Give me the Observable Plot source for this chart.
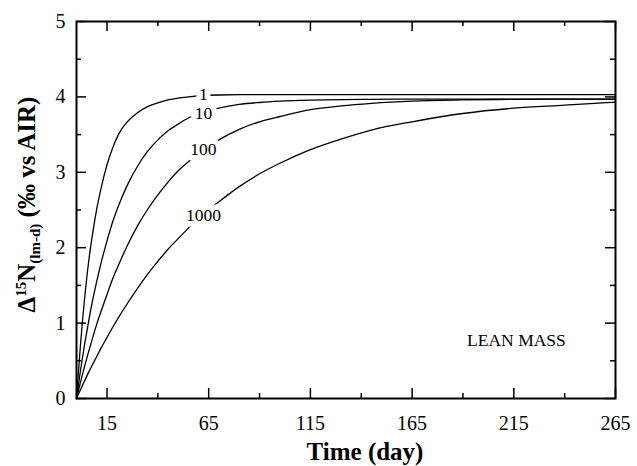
<!DOCTYPE html>
<html>
<head>
<meta charset="utf-8">
<script src="https://cdn.jsdelivr.net/npm/d3@7"></script>
<script src="https://cdn.jsdelivr.net/npm/@observablehq/plot@0.6"></script>
<style>
  html, body { margin: 0; padding: 0; background: #fff; }
  #chart svg, #chart svg text, #chart svg tspan { font-family: "Liberation Serif", serif !important; }
</style>
</head>
<body>
<div id="chart"></div>
<script>
// Time (day)
const days = [0, 2, 4, 6, 8, 10, 12, 15, 18, 21, 25, 30, 35, 40, 45, 50, 55, 62, 70, 80, 90, 100, 115, 130, 145, 165, 190, 215, 240, 265];
// Δ15N values for each curve
const curve1    = [0, 0.73, 1.33, 1.82, 2.20, 2.52, 2.78, 3.10, 3.34, 3.52, 3.67, 3.79, 3.87, 3.92, 3.96, 3.985, 4.00, 4.015, 4.025, 4.03, 4.03, 4.03, 4.03, 4.03, 4.03, 4.03, 4.03, 4.03, 4.03, 4.03];
const curve10   = [0, 0.378, 0.72, 1.03, 1.31, 1.56, 1.79, 2.09, 2.36, 2.58, 2.83, 3.08, 3.28, 3.43, 3.55, 3.64, 3.72, 3.79, 3.85, 3.90, 3.926, 3.943, 3.957, 3.964, 3.967, 3.97, 3.97, 3.97, 3.97, 3.97];
const curve100  = [0, 0.22, 0.43, 0.625, 0.81, 0.99, 1.15, 1.38, 1.60, 1.79, 2.03, 2.29, 2.51, 2.70, 2.87, 3.02, 3.14, 3.29, 3.43, 3.57, 3.67, 3.74, 3.83, 3.88, 3.915, 3.945, 3.96, 3.967, 3.97, 3.97];
const curve1000 = [0, 0.12, 0.235, 0.35, 0.456, 0.56, 0.665, 0.81, 0.955, 1.09, 1.26, 1.46, 1.65, 1.82, 1.98, 2.12, 2.26, 2.44, 2.61, 2.81, 2.98, 3.12, 3.30, 3.44, 3.56, 3.67, 3.78, 3.85, 3.89, 3.93];

const seriesNames = ["1", "10", "100", "1000"];
const seriesValues = [curve1, curve10, curve100, curve1000];

// curve labels (data coordinates)
const labelNames = ["1", "10", "100", "1000"];
const labelX = [62.4, 62.4, 62.4, 62.4];
const labelY = [4.035, 3.784, 3.31, 2.435];

// axis ticks
const xMajor = [15, 65, 115, 165, 215, 265];
const xMinor = [40, 90, 140, 190, 240];
const yMajor = [0, 1, 2, 3, 4, 5];
const yMinor = [0.5, 1.5, 2.5, 3.5, 4.5];

const lineData = seriesNames.flatMap((name, i) =>
  days.map((d, j) => ({series: name, day: d, value: seriesValues[i][j]})));
const labelData = labelNames.map((n, i) => ({name: n, x: labelX[i], y: labelY[i]}));

const W = 637, H = 466;
const mL = 76, mR = 22, mT = 21, mB = 68;
const pw = W - mL - mR, ph = H - mT - mB;
const major = 10, minor = 5;
const FONT = "Liberation Serif";

const chart = Plot.plot({
  width: W,
  height: H,
  marginLeft: mL,
  marginRight: mR,
  marginTop: mT,
  marginBottom: mB,
  x: {domain: [0, 265], axis: null},
  y: {domain: [0, 5], axis: null},
  style: {fontFamily: FONT, fontSize: "20px", background: "white", color: "black"},
  marks: [
    Plot.line(lineData, {x: "day", y: "value", z: "series", curve: "monotone-x", stroke: "black", strokeWidth: 1.3}),
    Plot.text(labelData, {x: "x", y: "y", text: "name", fontSize: 17.5, fontFamily: FONT, fill: "black", stroke: "white", strokeWidth: 11, paintOrder: "stroke", textAnchor: "middle", lineAnchor: "middle"}),
    Plot.text(["LEAN MASS"], {x: 216.3, y: 0.77, fontSize: 17.5, fontFamily: FONT, fill: "black", textAnchor: "middle", lineAnchor: "middle"}),
    // ticks (inward, all four sides)
    Plot.tickX(xMajor, {x: d => d, insetTop: ph - major, stroke: "black", strokeWidth: 1.5}),
    Plot.tickX(xMajor, {x: d => d, insetBottom: ph - major, stroke: "black", strokeWidth: 1.5}),
    Plot.tickX(xMinor, {x: d => d, insetTop: ph - minor, stroke: "black", strokeWidth: 1.5}),
    Plot.tickX(xMinor, {x: d => d, insetBottom: ph - minor, stroke: "black", strokeWidth: 1.5}),
    Plot.tickY(yMajor, {y: d => d, insetRight: pw - major, stroke: "black", strokeWidth: 1.5}),
    Plot.tickY(yMajor, {y: d => d, insetLeft: pw - major, stroke: "black", strokeWidth: 1.5}),
    Plot.tickY(yMinor, {y: d => d, insetRight: pw - minor, stroke: "black", strokeWidth: 1.5}),
    Plot.tickY(yMinor, {y: d => d, insetLeft: pw - minor, stroke: "black", strokeWidth: 1.5}),
    Plot.axisX({ticks: xMajor, tickSize: 0, tickPadding: 17, tickFormat: d => String(d), fontSize: 20, fontFamily: FONT}),
    Plot.axisY({ticks: yMajor, tickSize: 0, tickPadding: 11, tickFormat: d => String(d), fontSize: 20, fontFamily: FONT}),
    Plot.frame({stroke: "black", strokeWidth: 2})
  ]
});

const svg = d3.select(chart);
svg.append("text")
  .attr("x", 365).attr("y", 460)
  .attr("text-anchor", "middle")
  .attr("font-weight", "bold")
  .attr("font-size", 25)
  .attr("fill", "black")
  .text("Time (day)");

const yl = svg.append("text")
  .attr("transform", "translate(35,204.5) rotate(-90)")
  .attr("text-anchor", "middle")
  .attr("font-weight", "bold")
  .attr("font-size", 25)
  .attr("fill", "black");
yl.append("tspan").text("Δ");
yl.append("tspan").attr("font-size", 15).attr("dy", -9).text("15");
yl.append("tspan").attr("dy", 9).text("N");
yl.append("tspan").attr("font-size", 15).attr("dy", 5).text("(lm-d)");
yl.append("tspan").attr("dy", -5).text(" (‰ vs AIR)");

svg.style("font-family", FONT, "important");
svg.selectAll("text, tspan").style("font-family", FONT, "important");

document.getElementById("chart").appendChild(chart);
</script>
</body>
</html>
